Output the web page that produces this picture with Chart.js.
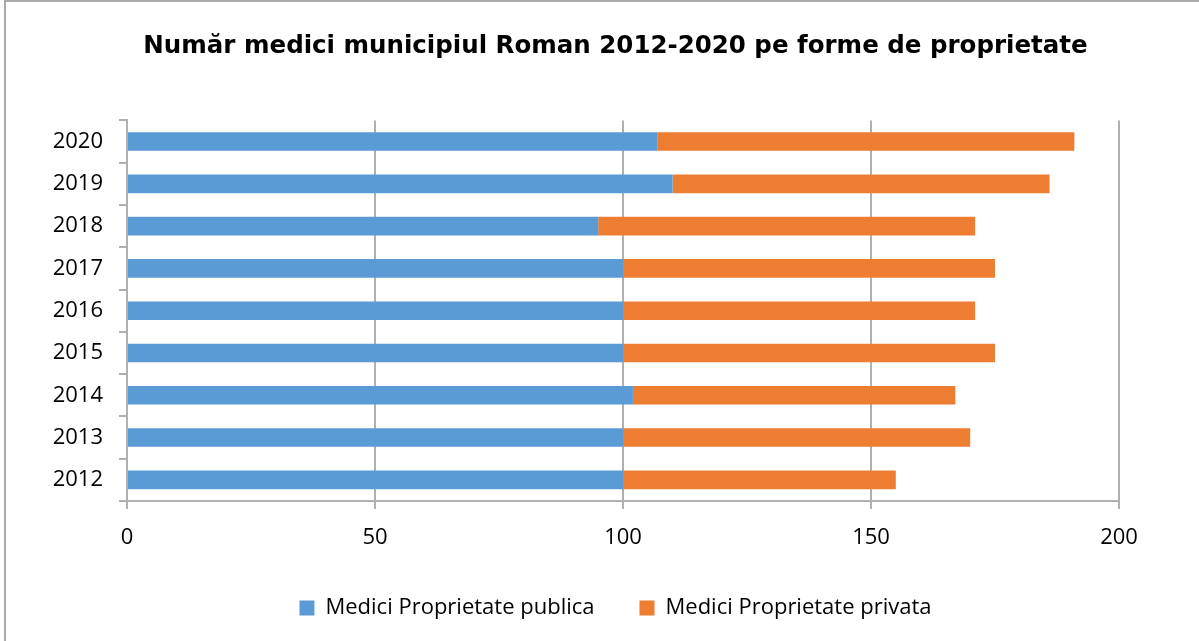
<!DOCTYPE html>
<html>
<head>
<meta charset="utf-8">
<script src="https://cdn.jsdelivr.net/npm/chart.js@4/dist/chart.umd.min.js"></script>
<style>
  html, body { margin: 0; padding: 0; background: #fff; }
  #wrap { width: 1199px; height: 641px; }
</style>
</head>
<body>
<div id="wrap"><canvas id="medici-chart"></canvas></div>
<script>
const years = ["2012", "2013", "2014", "2015", "2016", "2017", "2018", "2019", "2020"];
const publica = [100, 100, 102, 100, 100, 100, 95, 110, 107];
const privata = [55, 70, 65, 75, 71, 75, 76, 76, 84];
const xTicks = [0, 50, 100, 150, 200];

const gridColor = '#b0b0b0';

// white background + frame on left and top, like the original picture
const frame = {
    id: 'frame',
    beforeDraw: (chart) => {
        const c = chart.ctx;
        c.save();
        c.fillStyle = '#fff';
        c.fillRect(0, 0, chart.width, chart.height);
        c.strokeStyle = '#aaaaaa';
        c.lineWidth = 2;
        c.beginPath();
        c.moveTo(5, chart.height);
        c.lineTo(5, 1);
        c.lineTo(chart.width, 1);
        c.stroke();
        c.restore();
    }
};

var ctx = document.getElementById('medici-chart');

var chart = new Chart(ctx, {
    type: 'bar',
    data: {
        labels: years,
        datasets: [{
            label: 'Medici Proprietate publica',
            data: publica,
            backgroundColor: '#5b9bd5',
            barPercentage: 0.44,
            categoryPercentage: 1
        }, {
            label: 'Medici Proprietate privata',
            data: privata,
            backgroundColor: '#ed7d31',
            barPercentage: 0.44,
            categoryPercentage: 1
        }]
    },
    options: {
        indexAxis: 'y',
        responsive: true,
        maintainAspectRatio: false,
        animation: false,
        layout: { padding: { left: 32, bottom: 12 } },
        plugins: {
            title: {
                display: true,
                text: 'Număr medici municipiul Roman 2012-2020 pe forme de proprietate',
                color: '#000',
                font: { family: 'DejaVu Sans', size: 24.5, weight: 'bold' },
                padding: { top: 32, bottom: 59 }
            },
            legend: {
                position: 'bottom',
                labels: {
                    color: '#000',
                    font: { family: 'Open Sans', size: 22 },
                    boxWidth: 15,
                    boxHeight: 15,
                    padding: 45
                }
            },
            tooltip: { enabled: false }
        },
        scales: {
            x: {
                stacked: true,
                min: 0,
                max: 200,
                afterBuildTicks: (s) => { s.ticks = xTicks.map(v => ({ value: v })); },
                afterFit: (s) => { s.height = 51; },
                grid: { color: gridColor, lineWidth: 2, tickLength: 8 },
                border: { color: gridColor, width: 2 },
                ticks: {
                    color: '#000',
                    font: { family: 'Open Sans', size: 22 },
                    padding: 16
                }
            },
            y: {
                stacked: true,
                reverse: true,
                afterFit: (s) => { s.width = 95; },
                grid: { drawOnChartArea: false, color: gridColor, lineWidth: 2, tickLength: 8, offset: true },
                border: { color: gridColor, width: 2 },
                ticks: {
                    color: '#000',
                    font: { family: 'Open Sans', size: 22 },
                    padding: 16
                }
            },
            spacer: {
                type: 'linear',
                axis: 'y',
                position: 'right',
                afterFit: (s) => { s.width = 80; },
                grid: { display: false },
                border: { display: false },
                ticks: { display: false }
            }
        }
    },
    plugins: [frame]
});
</script>
</body>
</html>
